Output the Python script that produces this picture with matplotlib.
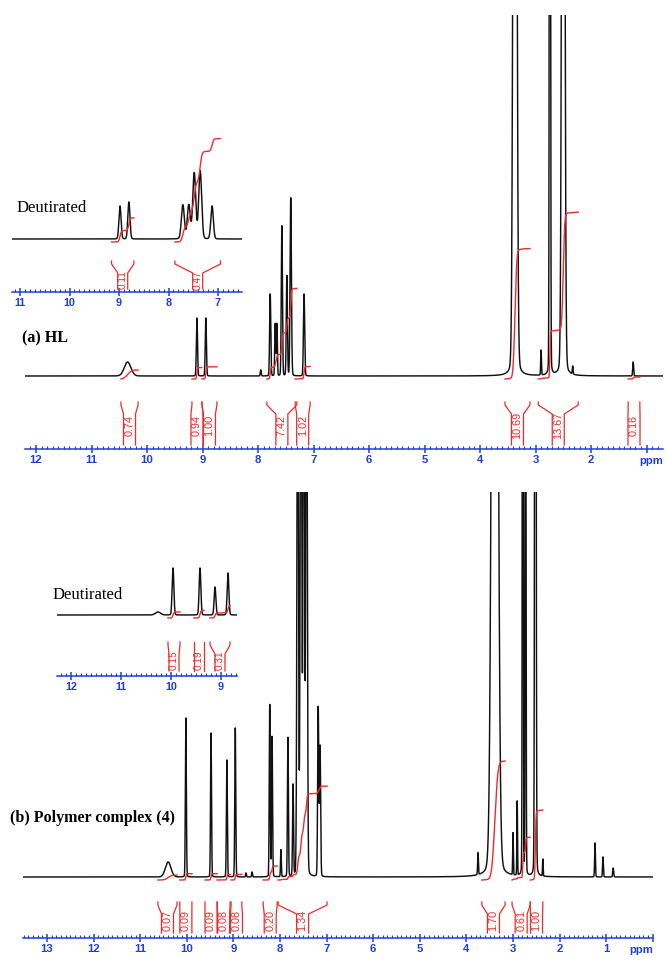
import numpy as np
import matplotlib
matplotlib.use("Agg")
import matplotlib.pyplot as plt
from matplotlib.ticker import MultipleLocator

W, H = 667, 963
BLUE = '#1f3ee0'
RED = '#f02a2a'

# ---------------- data ----------------
# (a) HL, main spectrum: peak positions (ppm), heights, half widths (ppm)
a_pos = [10.35, 9.10, 8.94, 7.95, 7.78, 7.69, 7.66, 7.57, 7.48, 7.41, 7.17,
         3.37, 2.90, 2.74, 2.50, 2.33, 1.24]
a_hgt = [14, 58, 58, 6, 82, 52, 52, 150, 100, 178, 82,
         1500, 25, 1500, 1500, 8, 14]
a_hw = [0.07, 0.012, 0.012, 0.01, 0.012, 0.01, 0.01, 0.012, 0.012, 0.014, 0.013,
        0.03, 0.008, 0.01, 0.025, 0.008, 0.01]
a_int_hi = [10.47, 9.19, 9.01, 7.84, 7.33, 3.55, 2.95, 1.33]
a_int_lo = [10.16, 9.01, 8.74, 7.30, 7.06, 3.10, 2.23, 1.12]
a_int_val = ['0.74', '0.94', '1.00', '7.42', '1.02', '10.69', '13.67', '0.16']
a_ticks = [12, 11, 10, 9, 8, 7, 6, 5, 4, 3, 2, 1]
a_ticklabels = ['12', '11', '10', '9', '8', '7', '6', '5', '4', '3', '2', '']

# (a) inset, deuterated
ia_pos = [8.98, 8.80, 7.71, 7.59, 7.48, 7.36, 7.12]
ia_hgt = [33, 37, 34, 34, 66, 68, 33]
ia_hw = [0.025, 0.025, 0.035, 0.035, 0.035, 0.035, 0.03]
ia_int_hi = [9.15, 7.87]
ia_int_lo = [8.70, 6.95]
ia_int_val = ['0.11', '0.47']
ia_ticks = [11, 10, 9, 8, 7]
ia_ticklabels = ['11', '10', '9', '8', '7']

# (b) Polymer complex (4), main spectrum
b_pos = [10.40, 10.02, 9.48, 9.14, 8.96, 8.73, 8.60, 8.22, 8.17, 7.98, 7.83, 7.72,
         7.62, 7.55, 7.49, 7.43, 7.18, 7.14, 3.75, 3.39, 3.00, 2.91, 2.79, 2.73, 2.52,
         2.36, 1.24, 1.07, 0.85]
b_hgt = [15, 159, 144, 117, 149, 4, 5, 172, 140, 27, 139, 91,
         600, 700, 620, 650, 169, 130, 22, 1500, 42, 74, 1200, 700, 1500,
         17, 34, 20, 9]
b_hw = [0.07, 0.012, 0.012, 0.012, 0.012, 0.01, 0.01, 0.012, 0.012, 0.01, 0.012, 0.012,
        0.018, 0.018, 0.018, 0.018, 0.014, 0.014, 0.01, 0.06, 0.008, 0.008, 0.01, 0.01,
        0.014, 0.008, 0.01, 0.01, 0.012]
b_int_hi = [10.62, 10.15, 9.61, 9.35, 9.05, 8.36, 8.04, 3.67, 3.02, 2.63]
b_int_lo = [10.21, 9.89, 9.35, 9.07, 8.82, 8.06, 6.99, 3.17, 2.63, 2.36]
b_int_val = ['0.07', '0.09', '0.09', '0.08', '0.08', '0.20', '1.34', '1.70', '0.61', '1.00']
b_ticks = [13, 12, 11, 10, 9, 8, 7, 6, 5, 4, 3, 2, 1, 0]
b_ticklabels = ['13', '12', '11', '10', '9', '8', '7', '6', '5', '4', '3', '2', '1', '']

# (b) inset, deuterated
ib_pos = [10.26, 9.96, 9.42, 9.12, 8.86]
ib_hgt = [3, 47, 47, 28, 42]
ib_hw = [0.06, 0.02, 0.02, 0.02, 0.02]
ib_int_hi = [10.06, 9.54, 9.22]
ib_int_lo = [9.82, 9.34, 8.82]
ib_int_val = ['0.15', '0.19', '0.31']
ib_ticks = [12, 11, 10, 9]
ib_ticklabels = ['12', '11', '10', '9']

# ---------------- drawing ----------------
fig = plt.figure(figsize=(W / 100, H / 100), dpi=100)


def pv(x, pos, hgt, hw, eta=0.06):
    y = np.zeros_like(x)
    for p, h, w in zip(pos, hgt, hw):
        u = (x - p) / w
        y += h * ((1 - eta) * np.exp(-np.log(2) * u * u) + eta / (1 + u * u))
    return y


def panel(l, r, top, bottom, x0, p0, k):
    ax = fig.add_axes([l / W, 1 - bottom / H, (r - l) / W, (bottom - top) / H])
    pl = p0 - (l - x0) / k
    pr = p0 - (r - x0) / k
    ax.set_xlim(pl, pr)
    ax.set_ylim(0, bottom - top)
    ax.patch.set_alpha(0)
    for s in ['top', 'left', 'right']:
        ax.spines[s].set_visible(False)
    ax.spines['bottom'].set_color(BLUE)
    ax.spines['bottom'].set_linewidth(1.1)
    ax.set_yticks([])
    ax.xaxis.set_minor_locator(MultipleLocator(0.1))
    ax.tick_params(axis='x', which='major', direction='inout', length=6,
                   width=1.1, color=BLUE, pad=1.5)
    ax.tick_params(axis='x', which='minor', direction='in', length=2.5,
                   width=0.8, color=BLUE)
    return ax, pl, pr


def draw(ax, pl, pr, base, pos, hgt, hw, ihi, ilo, ival, scale, k,
         T, C, B, half, ticks, tlabels, ppm=False, fs=8.2, ifs=7.8):
    x = np.linspace(pl, pr, 24000)
    y = pv(x, pos, hgt, hw)
    ax.plot(x, base + y, color='#111111', lw=1.05)
    for hi, lo, v in zip(ihi, ilo, ival):
        m = (x <= hi) & (x >= lo)
        c = np.cumsum(y[m])
        c = c / c[-1]
        ax.plot(x[m], base - 3 + float(v) * scale * c, color=RED, lw=1.0,
                clip_on=False)
        xc = (hi + lo) / 2
        xil = xc + half / k
        xir = xc - half / k
        ax.plot([hi, hi, xil, xil], [T, T - 3, T - 12, B], color=RED, lw=0.9)
        ax.plot([lo, lo, xir, xir], [T, T - 3, T - 12, B], color=RED, lw=0.9)
        ax.text(xc, C, v, rotation=90, ha='center', va='center', fontsize=ifs,
                color=RED, family='Liberation Sans')
    ax.set_xticks(ticks, tlabels, fontweight='bold', fontfamily='Liberation Sans',
                  fontsize=fs, color=BLUE)
    if ppm:
        ax.text(pr, -6.5, 'ppm', ha='right', va='top', fontweight='bold',
                family='Liberation Sans', fontsize=fs, color=BLUE)


# top main
ax, pl, pr = panel(25, 663, 15, 449, 36, 12, 55.5)
draw(ax, pl, pr, 73, a_pos, a_hgt, a_hw, a_int_hi, a_int_lo, a_int_val, 12.2, 55.5,
     47, 24, 4, 6, a_ticks, a_ticklabels, ppm=True)

# bottom main
ax, pl, pr = panel(23, 653, 492, 938, 47, 13, 46.6)
draw(ax, pl, pr, 61, b_pos, b_hgt, b_hw, b_int_hi, b_int_lo, b_int_val, 70, 46.6,
     36, 18, 5, 6, b_ticks, b_ticklabels, ppm=True)

# inset a
ax, pl, pr = panel(12, 242, 125, 292, 20, 11, 49.5)
draw(ax, pl, pr, 53, ia_pos, ia_hgt, ia_hw, ia_int_hi, ia_int_lo, ia_int_val, 220, 49.5,
     31, 12, 3, 5, ia_ticks, ia_ticklabels, fs=7.8, ifs=7.2)

# inset b
ax, pl, pr = panel(57, 237, 540, 676, 71, 12, 50)
draw(ax, pl, pr, 61, ib_pos, ib_hgt, ib_hw, ib_int_hi, ib_int_lo, ib_int_val, 40, 50,
     34, 16, 5, 5, ib_ticks, ib_ticklabels, fs=7.8, ifs=7.2)

fig.text(17 / W, 1 - 208 / H, 'Deutirated', fontsize=12, family='Liberation Serif',
         va='center', ha='left')
fig.text(22 / W, 1 - 338 / H, '(a) HL', fontsize=11.5, family='Liberation Serif',
         weight='bold', va='center', ha='left')
fig.text(53 / W, 1 - 595 / H, 'Deutirated', fontsize=12, family='Liberation Serif',
         va='center', ha='left')
fig.text(10 / W, 1 - 818 / H, '(b) Polymer complex (4)', fontsize=11.5,
         family='Liberation Serif', weight='bold', va='center', ha='left')

fig.savefig('out.png', dpi=100)
